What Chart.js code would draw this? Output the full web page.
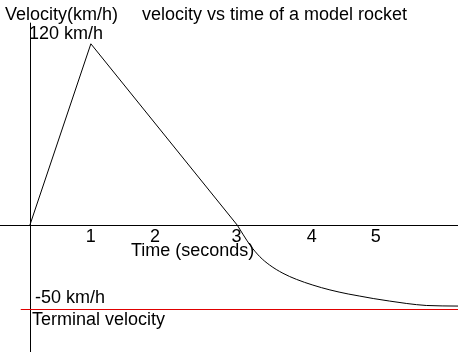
<!DOCTYPE html>
<html>
<head>
<meta charset="utf-8">
<script src="https://cdn.jsdelivr.net/npm/chart.js@4/dist/chart.umd.min.js"></script>
<style>
  html, body { margin: 0; padding: 0; background: #fff; }
  #wrap { width: 458px; height: 352px; position: relative; }
</style>
</head>
<body>
<div id="wrap"><canvas id="rocket"></canvas></div>
<script>
// sketch values (time in s, velocity in km/h)
var launchTimes = [0, 1, 3.40];
var launchSpeeds = [0, 120, 0];
var fallTimes = [3.40, 3.50, 3.61, 3.77, 3.93, 4.15, 4.37, 4.64, 4.92, 5.22, 5.41, 5.63, 5.90, 6.18, 6.50, 7.02];
var fallSpeeds = [0, -6.5, -13.2, -20.9, -26.4, -31.9, -35.9, -39.7, -42.9, -45.6, -47.0, -48.6, -50.3, -51.9, -53.2, -53.6];
var terminalSpeed = -55.87;
var tickTimes = [1, 2.05, 3.39, 4.62, 5.67];
var tickLabels = ["1", "2", "3", "4", "5"];

function toPoints(xs, ys) {
  return xs.map(function (x, i) { return { x: x, y: ys[i] }; });
}

var font = "18px 'Liberation Sans', Arial, sans-serif";

var sketchPlugin = {
  id: "sketch",
  beforeDatasetsDraw: function (chart) {
    var ctx = chart.ctx;
    var xs = chart.scales.x, ys = chart.scales.y;
    var x0 = Math.round(xs.getPixelForValue(0)) + 0.5;
    var y0 = Math.round(ys.getPixelForValue(0)) + 0.5;
    ctx.save();
    ctx.strokeStyle = "#000";
    ctx.lineWidth = 1;
    ctx.beginPath();
    ctx.moveTo(chart.chartArea.left, y0);
    ctx.lineTo(chart.chartArea.right, y0);
    ctx.moveTo(x0, ys.getPixelForValue(134));
    ctx.lineTo(x0, chart.chartArea.bottom);
    ctx.stroke();
    ctx.restore();
  },
  afterDatasetsDraw: function (chart) {
    var ctx = chart.ctx;
    var xs = chart.scales.x;
    ctx.save();
    ctx.fillStyle = "#000";
    ctx.font = font;
    ctx.textBaseline = "alphabetic";
    ctx.textAlign = "left";
    ctx.fillText("Velocity(km/h)", 5, 20);
    ctx.fillText("velocity vs time of a model rocket", 142, 20);
    ctx.fillText("120 km/h", 29, 39);
    ctx.fillText("Time (seconds)", 131, 256);
    ctx.fillText("-50 km/h", 35, 303);
    ctx.fillText("Terminal velocity", 32, 325);
    ctx.textAlign = "center";
    tickTimes.forEach(function (t, i) {
      ctx.fillText(tickLabels[i], xs.getPixelForValue(t), 242);
    });
    ctx.restore();
  }
};

new Chart(document.getElementById("rocket"), {
  type: "scatter",
  data: {
    datasets: [
      {
        label: "launch",
        data: toPoints(launchTimes, launchSpeeds),
        showLine: true,
        borderColor: "#000",
        borderWidth: 1,
        pointRadius: 0,
        tension: 0
      },
      {
        label: "fall",
        data: toPoints(fallTimes, fallSpeeds),
        showLine: true,
        borderColor: "#000",
        borderWidth: 1,
        pointRadius: 0,
        cubicInterpolationMode: "monotone"
      },
      {
        label: "terminal",
        data: [{ x: -0.15, y: terminalSpeed }, { x: 7.02, y: terminalSpeed }],
        showLine: true,
        borderColor: "#e00000",
        borderWidth: 1,
        pointRadius: 0
      }
    ]
  },
  options: {
    responsive: true,
    maintainAspectRatio: false,
    animation: false,
    layout: { padding: 0 },
    plugins: {
      legend: { display: false },
      title: { display: false },
      tooltip: { enabled: false }
    },
    scales: {
      x: { type: "linear", display: false, min: -0.49, max: 7.02 },
      y: { type: "linear", display: false, min: -84, max: 149 }
    }
  },
  plugins: [sketchPlugin]
});
</script>
</body>
</html>
